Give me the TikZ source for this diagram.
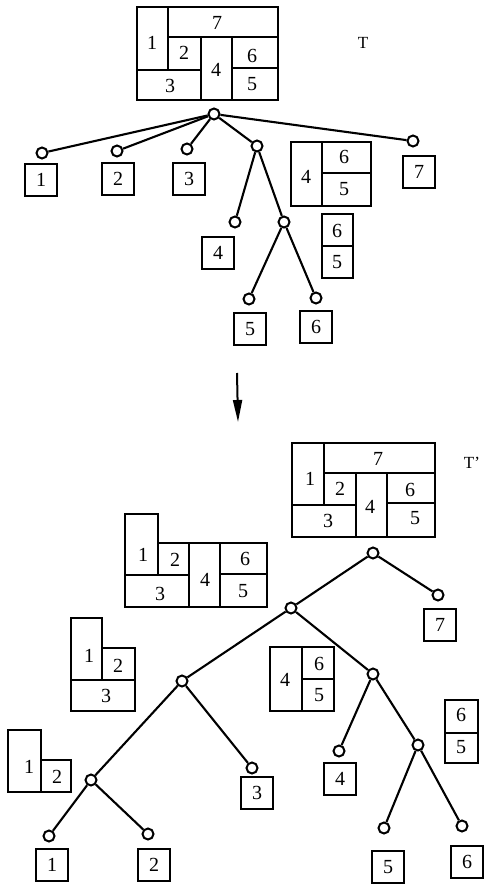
\documentclass[tikz,border=0pt]{standalone}
\usepackage{fontspec}
\setmainfont{Liberation Serif}
\usetikzlibrary{arrows.meta}
\newcommand{\numfont}{\fontsize{20pt}{22pt}\selectfont}
\tikzset{
  fp/.style={line width=2.1pt, line join=miter},
  vtx/.style={circle, draw, line width=2pt, inner sep=0pt, minimum size=11pt, fill=white},
  leafbox/.style={draw, line width=2.1pt, minimum size=32pt, inner sep=0pt, font=\numfont},
  lbl/.style={font=\numfont, inner sep=0pt},
  branch/.style={line width=2.1pt},
  treelabel/.style={font=\fontsize{17pt}{19pt}\selectfont, inner sep=0pt}
}
\begin{document}
\begin{tikzpicture}[x=1pt,y=-1pt]
\useasboundingbox (0,0) rectangle (487,885);

% ---------- tree T: floorplan ----------
\draw[fp] (137,7) rectangle (278,100);
\draw[fp] (168,7) -- (168,70);
\draw[fp] (168,37) -- (278,37);
\draw[fp] (137,70) -- (201,70);
\draw[fp] (201,37) -- (201,100);
\draw[fp] (232,37) -- (232,100);
\draw[fp] (232,68) -- (278,68);
\node[lbl] (tf7) at (217,23) {7};
\node[lbl] (tf1) at (152,43) {1};
\node[lbl] (tf2) at (184,53) {2};
\node[lbl] (tf4) at (216,70) {4};
\node[lbl] (tf6) at (252,56) {6};
\node[lbl] (tf3) at (170,86) {3};
\node[lbl] (tf5) at (252,84) {5};
\node[treelabel] (tT) at (363,43) {T};

% ---------- tree T: vertices ----------
\node[vtx] (r0) at (214,114) {};
\node[vtx] (a1) at (42,153) {};
\node[vtx] (a2) at (117,151) {};
\node[vtx] (a3) at (187,149) {};
\node[vtx] (a4) at (257,146) {};
\node[vtx] (a7) at (413,141) {};
\node[vtx] (b4) at (235,222) {};
\node[vtx] (b45) at (284,222) {};
\node[vtx] (b5) at (249,299) {};
\node[vtx] (b6) at (316,298) {};
\draw[branch] (r0) -- (a1);
\draw[branch] (r0) -- (a2);
\draw[branch] (r0) -- (a3);
\draw[branch] (r0) -- (a4);
\draw[branch] (r0) -- (a7);
\draw[branch] (a4) -- (b4);
\draw[branch] (a4) -- (b45);
\draw[branch] (b45) -- (b5);
\draw[branch] (b45) -- (b6);

% ---------- tree T: modules ----------
\node[leafbox] (tb1) at (41,180) {1};
\node[leafbox] (tb2) at (118,179) {2};
\node[leafbox] (tb3) at (189,179) {3};
\node[leafbox] (tb7) at (419,172) {7};
\node[leafbox] (tb4) at (218,253) {4};
\node[leafbox] (tb5) at (250,329) {5};
\node[leafbox] (tb6) at (316,327) {6};
% sub-floorplan 4 | 6/5
\draw[fp] (291,142) rectangle (371,206);
\draw[fp] (322,142) -- (322,206);
\draw[fp] (322,173) -- (371,173);
\node[lbl] (tc4) at (306,177) {4};
\node[lbl] (tc6) at (344,157) {6};
\node[lbl] (tc5) at (344,189) {5};
% sub-floorplan 6/5
\draw[fp] (322,214) rectangle (353,278);
\draw[fp] (322,246) -- (353,246);
\node[lbl] (td6) at (337,231) {6};
\node[lbl] (td5) at (337,262) {5};

% ---------- transformation arrow ----------
\coordinate (arS) at (237,373);
\coordinate (arE) at (238,422);
\draw[line width=2pt, -{Triangle[length=22pt,width=9pt]}] (arS) -- (arE);

% ---------- tree T': floorplan ----------
\draw[fp] (292,443) rectangle (435,537);
\draw[fp] (324,443) -- (324,505);
\draw[fp] (324,473) -- (435,473);
\draw[fp] (292,505) -- (356,505);
\draw[fp] (356,473) -- (356,537);
\draw[fp] (387,473) -- (387,537);
\draw[fp] (387,503) -- (435,503);
\node[lbl] (uf7) at (378,459) {7};
\node[lbl] (uf1) at (310,479) {1};
\node[lbl] (uf2) at (340,489) {2};
\node[lbl] (uf4) at (370,507) {4};
\node[lbl] (uf6) at (410,490) {6};
\node[lbl] (uf3) at (328,521) {3};
\node[lbl] (uf5) at (415,518) {5};
\node[treelabel] (tTp) at (472,463) {T'};

% floorplan without 7
\draw[fp] (125,514) -- (158,514) -- (158,543) -- (267,543) -- (267,607) -- (125,607) -- cycle;
\draw[fp] (158,514) -- (158,575);
\draw[fp] (125,575) -- (189,575);
\draw[fp] (189,543) -- (189,607);
\draw[fp] (220,543) -- (220,607);
\draw[fp] (220,574) -- (267,574);
\node[lbl] (vf1) at (143,555) {1};
\node[lbl] (vf2) at (175,560) {2};
\node[lbl] (vf4) at (205,580) {4};
\node[lbl] (vf6) at (245,559) {6};
\node[lbl] (vf3) at (160,594) {3};
\node[lbl] (vf5) at (243,591) {5};

% floorplan 1, 2 over 3
\draw[fp] (71,618) -- (102,618) -- (102,648) -- (135,648) -- (135,711) -- (71,711) -- cycle;
\draw[fp] (102,618) -- (102,680);
\draw[fp] (71,680) -- (135,680);
\node[lbl] (wf1) at (89,656) {1};
\node[lbl] (wf2) at (118,666) {2};
\node[lbl] (wf3) at (106,696) {3};

% floorplan 1 | 2
\draw[fp] (8,730) -- (41,730) -- (41,760) -- (71,760) -- (71,792) -- (8,792) -- cycle;
\draw[fp] (41,760) -- (41,792);
\node[lbl] (xf1) at (29,767) {1};
\node[lbl] (xf2) at (57,777) {2};

% floorplan 4 | 6/5
\draw[fp] (270,647) rectangle (334,711);
\draw[fp] (302,647) -- (302,711);
\draw[fp] (302,679) -- (334,679);
\node[lbl] (yf4) at (285,680) {4};
\node[lbl] (yf6) at (319,664) {6};
\node[lbl] (yf5) at (319,695) {5};

% floorplan 6/5
\draw[fp] (445,700) rectangle (478,763);
\draw[fp] (445,733) -- (478,733);
\node[lbl] (zf6) at (461,715) {6};
\node[lbl] (zf5) at (461,747) {5};

% ---------- tree T': vertices ----------
\node[vtx] (R) at (373,553) {};
\node[vtx] (c7) at (438,595) {};
\node[vtx] (N1) at (291,608) {};
\node[vtx] (N2) at (182,681) {};
\node[vtx] (N3) at (373,674) {};
\node[vtx] (N4) at (91,780) {};
\node[vtx] (l3) at (252,768) {};
\node[vtx] (l1) at (49,836) {};
\node[vtx] (l2) at (148,834) {};
\node[vtx] (l4) at (339,751) {};
\node[vtx] (N5) at (418,745) {};
\node[vtx] (l5) at (384,828) {};
\node[vtx] (l6) at (462,826) {};
\draw[branch] (R) -- (N1);
\draw[branch] (R) -- (c7);
\draw[branch] (N1) -- (N2);
\draw[branch] (N1) -- (N3);
\draw[branch] (N2) -- (N4);
\draw[branch] (N2) -- (l3);
\draw[branch] (N4) -- (l1);
\draw[branch] (N4) -- (l2);
\draw[branch] (N3) -- (l4);
\draw[branch] (N3) -- (N5);
\draw[branch] (N5) -- (l5);
\draw[branch] (N5) -- (l6);

% ---------- tree T': modules ----------
\node[leafbox] (ub7) at (440,625) {7};
\node[leafbox] (ub3) at (257,793) {3};
\node[leafbox] (ub1) at (52,865) {1};
\node[leafbox] (ub2) at (154,865) {2};
\node[leafbox] (ub4) at (340,779) {4};
\node[leafbox] (ub5) at (388,867) {5};
\node[leafbox] (ub6) at (467,862) {6};
\end{tikzpicture}
\end{document}
